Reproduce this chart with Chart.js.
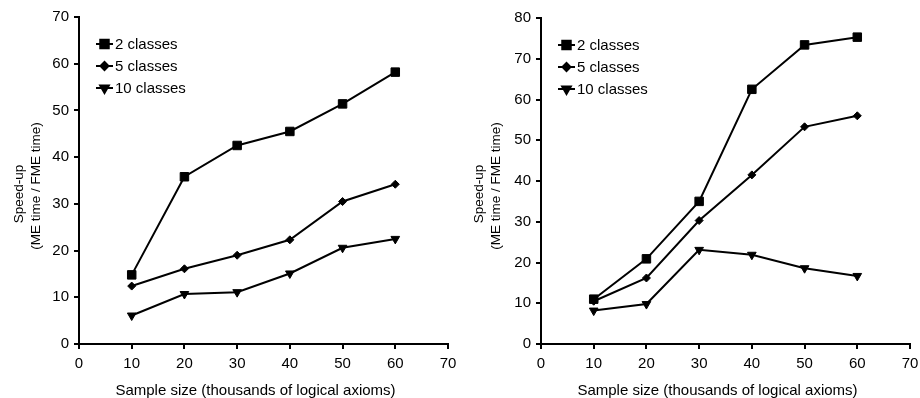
<!DOCTYPE html>
<html>
<head>
<meta charset="utf-8">
<script src="https://cdn.jsdelivr.net/npm/chart.js@4.4.1/dist/chart.umd.min.js"></script>
<style>
  body { margin: 0; background: #fff; }
  .box { position: absolute; top: 0; width: 460px; height: 398px; }
  #boxLeft { left: 0; }
  #boxRight { left: 460px; }
</style>
</head>
<body>
<div class="box" id="boxLeft"><canvas id="chartLeft" width="460" height="398"></canvas></div>
<div class="box" id="boxRight"><canvas id="chartRight" width="460" height="398"></canvas></div>
<script>
// sample sizes (thousands of logical axioms)
const sampleSizes = [10, 20, 30, 40, 50, 60];
const seriesLabels = ['2 classes', '5 classes', '10 classes'];
const xTitle = 'Sample size (thousands of logical axioms)';
const yTitle = ['Speed-up', '(ME time / FME time)'];

// left panel
const leftTwo  = [14.8, 35.8, 42.5, 45.5, 51.4, 58.2];
const leftFive = [12.4, 16.1, 19.0, 22.3, 30.5, 34.2];
const leftTen  = [6.1, 10.7, 11.1, 15.1, 20.6, 22.5];

// right panel
const rightTwo  = [11.0, 20.9, 35.0, 62.5, 73.4, 75.3];
const rightFive = [10.5, 16.2, 30.3, 41.5, 53.3, 56.0];
const rightTen  = [8.2, 9.8, 23.1, 21.9, 18.6, 16.7];

const FONT = 'Liberation Sans, Arial, sans-serif';

const markers = [
  { pointStyle: 'rect', pointRadius: 6, pointRotation: 0 },
  { pointStyle: 'rectRot', pointRadius: 4, pointRotation: 0 },
  { pointStyle: 'triangle', pointRadius: 5, pointRotation: 180 }
];

function toPoints(values) {
  return values.map((v, i) => ({ x: sampleSizes[i], y: v }));
}

// legend drawn inside the plot, line + marker like the original
const insideLegend = {
  id: 'insideLegend',
  afterDraw(chart) {
    const ctx = chart.ctx;
    const area = chart.chartArea;
    ctx.save();
    chart.data.datasets.forEach((ds, i) => {
      const y = area.top + 27 + i * 22;
      const x0 = area.left + 17;
      ctx.strokeStyle = '#000';
      ctx.lineWidth = 2;
      ctx.beginPath();
      ctx.moveTo(x0, y);
      ctx.lineTo(x0 + 17, y);
      ctx.stroke();
      ctx.fillStyle = '#000';
      Chart.helpers.drawPoint(ctx, {
        pointStyle: ds.pointStyle,
        radius: ds.pointRadius,
        rotation: ds.pointRotation,
        borderWidth: 1
      }, x0 + 8.5, y);
      ctx.fill();
      ctx.font = '15px ' + FONT;
      ctx.textBaseline = 'middle';
      ctx.textAlign = 'left';
      ctx.fillText(ds.label, x0 + 19, y + 1);
    });
    ctx.restore();
  }
};

// axis titles placed by hand (the original sits a bit off-centre)
const axisTitles = {
  id: 'axisTitles',
  afterDraw(chart) {
    const ctx = chart.ctx;
    const area = chart.chartArea;
    ctx.save();
    ctx.fillStyle = '#000';
    ctx.textAlign = 'center';
    ctx.textBaseline = 'alphabetic';
    ctx.font = '15px ' + FONT;
    ctx.fillText(xTitle, (area.left + area.right) / 2 - 8, 395);

    ctx.font = '13.5px ' + FONT;
    const rows = [[22.7, 194], [39.7, 186]];
    yTitle.forEach((line, i) => {
      ctx.save();
      ctx.translate(rows[i][0], rows[i][1]);
      ctx.rotate(-Math.PI / 2);
      ctx.fillText(line, 0, 0);
      ctx.restore();
    });
    ctx.restore();
  }
};

function makeChart(id, values, yMax, yWidth, padTop, padRight) {
  new Chart(document.getElementById(id), {
    type: 'line',
    data: {
      datasets: values.map((vals, i) => ({
        label: seriesLabels[i],
        data: toPoints(vals),
        borderColor: '#000',
        backgroundColor: '#000',
        pointBackgroundColor: '#000',
        pointBorderColor: '#000',
        borderWidth: 2,
        pointBorderWidth: 1,
        tension: 0,
        ...markers[i]
      }))
    },
    options: {
      responsive: false,
      animation: false,
      events: [],
      layout: { padding: { top: padTop, right: padRight, left: 0, bottom: 0 } },
      plugins: { legend: { display: false }, tooltip: { enabled: false } },
      scales: {
        x: {
          type: 'linear',
          min: 0, max: 70,
          ticks: { stepSize: 10, color: '#000', font: { family: FONT, size: 15 }, padding: 6, maxRotation: 0 },
          grid: { drawOnChartArea: false, drawTicks: true, tickLength: 5, color: '#000', lineWidth: 2 },
          border: { color: '#000', width: 2 },
          afterFit(scale) {
            scale.height = 54;
            scale.paddingLeft = 0;
            scale.paddingRight = 0;
          }
        },
        y: {
          min: 0, max: yMax,
          ticks: { stepSize: 10, color: '#000', font: { family: FONT, size: 15 }, padding: 5 },
          grid: { drawOnChartArea: false, drawTicks: true, tickLength: 5, color: '#000', lineWidth: 2 },
          border: { color: '#000', width: 2 },
          afterFit(scale) { scale.width = yWidth; }
        }
      }
    },
    plugins: [insideLegend, axisTitles]
  });
}

makeChart('chartLeft', [leftTwo, leftFive, leftTen], 70, 79, 17, 12);
makeChart('chartRight', [rightTwo, rightFive, rightTen], 80, 81, 18, 10);
</script>
</body>
</html>
